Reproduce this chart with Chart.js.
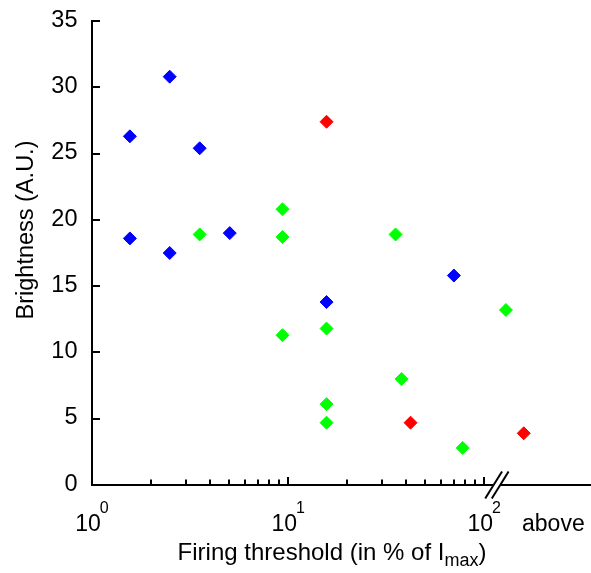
<!DOCTYPE html>
<html lang="en">
<head>
<meta charset="UTF-8">
<title>Brightness vs firing threshold</title>
<script src="https://cdn.jsdelivr.net/npm/chart.js"></script>
<style>
  html, body { margin: 0; padding: 0; background: #fff; }
  #wrap { position: relative; width: 591px; height: 573px; }
</style>
</head>
<body>
<div id="wrap"><canvas id="chart"></canvas></div>
<script>
// Firing threshold (% of Imax) and brightness (A.U.), one pair of arrays per group
const blueThreshold = [1.56, 1.56, 2.49, 2.49, 3.54, 5.04, 15.7, 70.0];
const blueBrightness = [26.3, 18.6, 30.8, 17.5, 25.4, 19.0, 13.8, 15.8];
const greenThreshold = [3.54, 9.36, 9.36, 9.36, 15.7, 15.7, 15.7, 35.3, 37.9, 77.6, 129];
const greenBrightness = [18.9, 20.8, 18.7, 11.3, 11.8, 6.1, 4.7, 18.9, 8.0, 2.8, 13.2];
const redThreshold = [15.7, 42.1, 159];
const redBrightness = [27.4, 4.7, 3.9];

// axis layout values
const yTickValues = [0, 5, 10, 15, 20, 25, 30, 35];
const xDecades = [1, 10, 100];
const xDecadeExp = ['0', '1', '2'];
const xMinorTicks = [2, 3, 4, 5, 6, 7, 8, 9, 20, 30, 40, 50, 60, 70, 80, 90];
const xMin = 1;
const xMax = 346;
const xBreakAt = 116;   // where the axis is cut
const xAboveAt = 225;   // "above" bin label
const aboveLabel = 'above';

const FONT = '"Liberation Sans", Arial, sans-serif';

function points(xs, ys) {
    return xs.map((x, i) => ({ x: x, y: ys[i] }));
}

function dataset(label, xs, ys, color) {
    return {
        label: label,
        data: points(xs, ys),
        pointStyle: 'rectRot',
        pointRadius: 6.5,
        pointHoverRadius: 6.5,
        pointBackgroundColor: color,
        pointBorderColor: color,
        pointBorderWidth: 1
    };
}

// ticks drawn inward, tick labels, axis break and titles
const axisDecor = {
    id: 'axisDecor',
    afterDraw(chart) {
        const ctx = chart.ctx;
        const area = chart.chartArea;
        const xs = chart.scales.x;
        const ys = chart.scales.y;
        ctx.save();
        ctx.strokeStyle = '#000';
        ctx.fillStyle = '#000';
        ctx.lineWidth = 2;

        ctx.font = '23.5px ' + FONT;
        ctx.textAlign = 'right';
        ctx.textBaseline = 'alphabetic';
        yTickValues.forEach(v => {
            const y = ys.getPixelForValue(v);
            ctx.beginPath();
            ctx.moveTo(area.left, Math.round(y));
            ctx.lineTo(area.left + 8, Math.round(y));
            ctx.stroke();
            ctx.fillText(String(v), 77.5, y + 5.7);
        });
        xDecades.forEach(v => {
            const x = Math.round(xs.getPixelForValue(v));
            ctx.beginPath();
            ctx.moveTo(x, area.bottom);
            ctx.lineTo(x, area.bottom - 8);
            ctx.stroke();
        });
        xMinorTicks.forEach(v => {
            const x = Math.round(xs.getPixelForValue(v));
            ctx.beginPath();
            ctx.moveTo(x, area.bottom);
            ctx.lineTo(x, area.bottom - 5.5);
            ctx.stroke();
        });

        // axis break: blank a short gap and draw two slashes
        const xb = xs.getPixelForValue(xBreakAt);
        ctx.fillStyle = '#fff';
        ctx.fillRect(xb - 3.3, area.bottom - 3, 6.6, 6);
        ctx.fillStyle = '#000';
        [-3.3, 3.3].forEach(off => {
            ctx.beginPath();
            ctx.moveTo(xb + off - 8.4, area.bottom + 13.5);
            ctx.lineTo(xb + off + 8.4, area.bottom - 13.5);
            ctx.stroke();
        });

        // decade labels 10^n
        ctx.textAlign = 'left';
        xDecades.forEach((v, i) => {
            const x = xs.getPixelForValue(v);
            ctx.font = '23px ' + FONT;
            const wBase = ctx.measureText('10').width;
            ctx.font = '16px ' + FONT;
            const wExp = ctx.measureText(xDecadeExp[i]).width;
            const left = x - (wBase + wExp - 1) / 2;
            ctx.font = '23px ' + FONT;
            ctx.fillText('10', left, 530.5);
            ctx.font = '16px ' + FONT;
            ctx.fillText(xDecadeExp[i], left + wBase - 1, 513);
        });

        ctx.font = '23px ' + FONT;
        ctx.textAlign = 'center';
        ctx.fillText(aboveLabel, xs.getPixelForValue(xAboveAt), 530.5);

        // x title with subscript
        const t1 = 'Firing threshold (in % of I';
        const t2 = 'max';
        const t3 = ')';
        ctx.textAlign = 'left';
        ctx.font = '24px ' + FONT;
        const w1 = ctx.measureText(t1).width;
        const w3 = ctx.measureText(t3).width;
        ctx.font = '18px ' + FONT;
        const w2 = ctx.measureText(t2).width;
        const tx = 332 - (w1 + w2 + w3) / 2;
        ctx.font = '24px ' + FONT;
        ctx.fillText(t1, tx, 560);
        ctx.font = '18px ' + FONT;
        ctx.fillText(t2, tx + w1, 566);
        ctx.font = '24px ' + FONT;
        ctx.fillText(t3, tx + w1 + w2, 560);

        // y title
        ctx.translate(33, 230);
        ctx.rotate(-Math.PI / 2);
        ctx.textAlign = 'center';
        ctx.font = '23.5px ' + FONT;
        ctx.fillText('Brightness (A.U.)', 0, 0);
        ctx.restore();
    }
};

new Chart(document.getElementById('chart'), {
    type: 'scatter',
    data: {
        datasets: [
            dataset('blue', blueThreshold, blueBrightness, '#0000ff'),
            dataset('green', greenThreshold, greenBrightness, '#00ff00'),
            dataset('red', redThreshold, redBrightness, '#ff0000')
        ]
    },
    options: {
        responsive: true,
        maintainAspectRatio: false,
        animation: false,
        events: [],
        layout: { autoPadding: false, padding: { top: 21, right: 1, left: 0, bottom: 0 } },
        plugins: {
            legend: { display: false },
            tooltip: { enabled: false }
        },
        scales: {
            x: {
                type: 'logarithmic',
                min: xMin,
                max: xMax,
                grid: { display: false, drawTicks: false },
                border: { display: true, color: '#000', width: 2 },
                ticks: { display: false },
                afterFit(scale) { scale.height = 88; }
            },
            y: {
                min: 0,
                max: 35,
                grid: { display: false, drawTicks: false },
                border: { display: true, color: '#000', width: 2 },
                ticks: { display: false, stepSize: 5 },
                afterFit(scale) { scale.width = 92; }
            }
        }
    },
    plugins: [axisDecor]
});
</script>
</body>
</html>
